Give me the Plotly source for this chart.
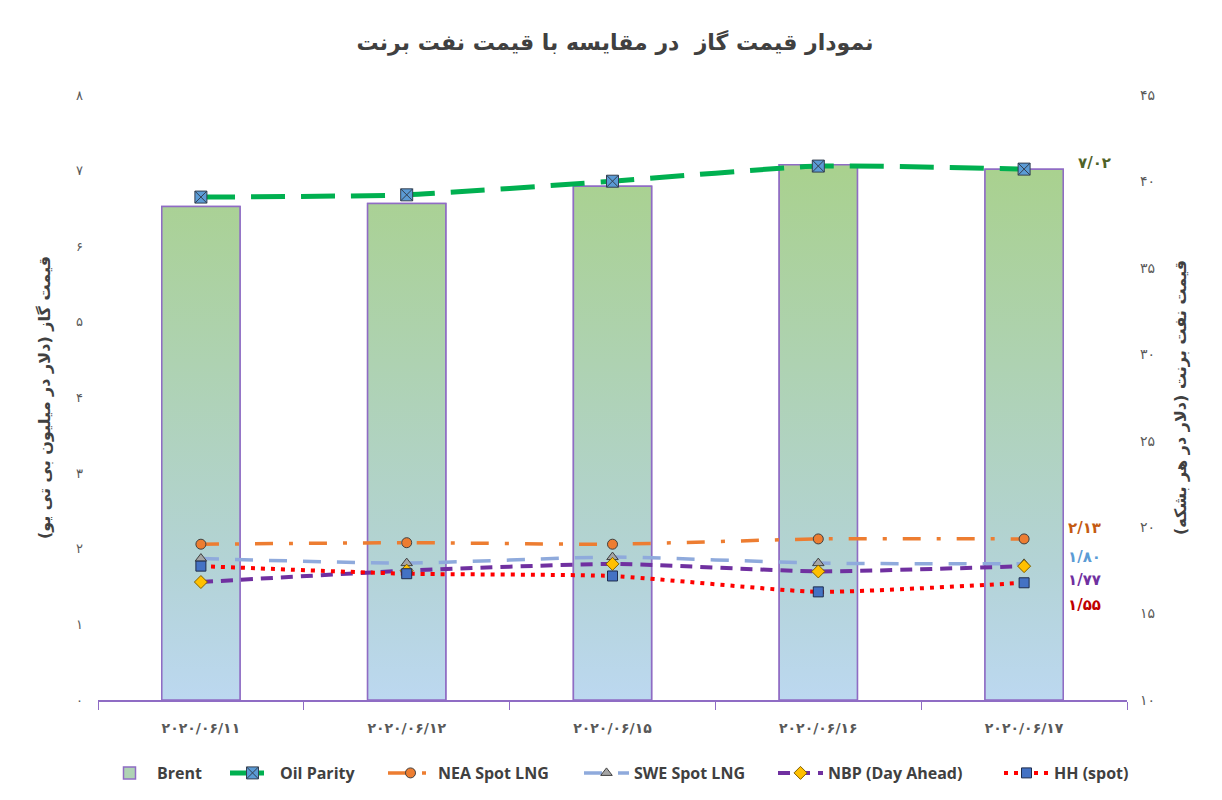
import plotly.graph_objects as go

# ---------------- data ----------------
dates = ["2020/06/11", "2020/06/12", "2020/06/15", "2020/06/16", "2020/06/17"]
brent = [38.55, 38.73, 39.72, 40.96, 40.71]          # right axis ($/bbl)
oil_parity = [6.65, 6.68, 6.86, 7.06, 7.02]          # left axis ($/MMBtu)
nea_lng = [2.06, 2.08, 2.06, 2.13, 2.13]
swe_lng = [1.87, 1.81, 1.89, 1.81, 1.80]
nbp = [1.56, 1.71, 1.80, 1.70, 1.77]
hh = [1.77, 1.67, 1.64, 1.43, 1.55]
left_ticks = [0, 1, 2, 3, 4, 5, 6, 7, 8]
right_ticks = [10, 15, 20, 25, 30, 35, 40, 45]

title_text = "نمودار قیمت گاز  در مقایسه با قیمت نفت برنت"
left_title = "قیمت گاز (دلار در میلیون بی تی یو)"
right_title = "قیمت نفت برنت (دلار در هر بشکه)"

FA = str.maketrans("0123456789.", "۰۱۲۳۴۵۶۷۸۹/")


def fa(s):
    return str(s).translate(FA)


PURPLE = "#8f6cc4"
TXT = "#595959"
FA_FONT = "DejaVu Sans"
LEG_FONT = "Open Sans"

x = list(range(len(dates)))
bw = 0.38
hw = bw / 2

fig = go.Figure()

# Brent bars (right axis = primary y, drawn underneath)
fig.add_trace(go.Bar(
    x=x, y=[v - right_ticks[0] for v in brent], base=right_ticks[0], width=bw,
    yaxis="y", name="Brent", legend="legend",
    marker=dict(color="#afd3b4", line=dict(color=PURPLE, width=1.5)),
    hoverinfo="skip",
))
# gradient overlay of the same bars
bx, by = [], []
for i, v in zip(x, brent):
    bx += [i - hw, i - hw, i + hw, i + hw, i - hw, None]
    by += [right_ticks[0], v, v, right_ticks[0], right_ticks[0], None]
fig.add_trace(go.Scatter(
    x=bx, y=by, yaxis="y", name="Brent", mode="lines", showlegend=False,
    fill="toself",
    fillgradient=dict(type="vertical",
                      colorscale=[[0, "#bcd8f0"], [0.25, "#b3d3d6"], [1, "#a9d18e"]]),
    line=dict(color=PURPLE, width=1.5),
    hoverinfo="skip",
))

dark = "#404040"
fig.add_trace(go.Scatter(
    x=x, y=oil_parity, yaxis="y2", name="Oil Parity", mode="lines+markers", legend="legend2",
    line=dict(color="#00b050", width=5, dash="34px,16px", shape="spline", smoothing=0.5),
    marker=dict(symbol="square-x", size=12, color="#5b9bd5", line=dict(color="#333f50", width=1)),
))
fig.add_trace(go.Scatter(
    x=x, y=nea_lng, yaxis="y2", name="NEA Spot LNG", mode="lines+markers", legend="legend3",
    line=dict(color="#ed7d31", width=3.5, dash="18px,16px,4px,16px", shape="spline", smoothing=0.5),
    marker=dict(symbol="circle", size=10, color="#ed7d31", line=dict(color=dark, width=1)),
))
fig.add_trace(go.Scatter(
    x=x, y=swe_lng, yaxis="y2", name="SWE Spot LNG", mode="lines+markers", legend="legend4",
    line=dict(color="#8faadc", width=3.5, dash="18px,16px", shape="spline", smoothing=0.5),
    marker=dict(symbol="triangle-up", size=10, color="#a5a5a5", line=dict(color=dark, width=1)),
))
fig.add_trace(go.Scatter(
    x=x, y=nbp, yaxis="y2", name="NBP (Day Ahead)", mode="lines+markers", legend="legend5",
    line=dict(color="#7030a0", width=4, dash="12px,8px", shape="spline", smoothing=0.5),
    marker=dict(symbol="diamond", size=10, color="#ffc000", line=dict(color="#7f6000", width=1)),
))
fig.add_trace(go.Scatter(
    x=x, y=hh, yaxis="y2", name="HH (spot)", mode="lines+markers", legend="legend6",
    line=dict(color="#ff0000", width=4, dash="4px,6px", shape="spline", smoothing=0.5),
    marker=dict(symbol="square", size=10, color="#4472c4", line=dict(color="#1f2d4d", width=1)),
))

# end labels
labels = [
    (oil_parity, "#4f6228", 6, 52),
    (nea_lng, "#c55a11", 11, 42),
    (swe_lng, "#5b9bd5", 7, 42),
    (nbp, "#7030a0", -14, 42),
    (hh, "#c00000", -22, 42),
]
for series, col, ys, xs in labels:
    fig.add_annotation(
        x=x[-1], y=series[-1], xref="x", yref="y2",
        text="<b>" + fa(f"{series[-1]:.2f}") + "</b>",
        showarrow=False, xanchor="left", xshift=xs, yshift=ys,
        font=dict(family=FA_FONT, size=15, color=col),
    )

W, H = 1214, 792


def leg(px):
    return dict(orientation="h", xref="container", yref="container",
                x=px / W, xanchor="left", y=1 - 765 / H, yanchor="middle",
                bgcolor="rgba(0,0,0,0)", borderwidth=0, itemwidth=45,
                font=dict(family=LEG_FONT, size=16, color="#404040", weight="bold"))


fig.update_layout(
    width=W, height=H,
    paper_bgcolor="white", plot_bgcolor="white",
    margin=dict(l=90, r=95, t=87, b=100),
    title=dict(text="<b>" + title_text + "</b>", x=0.5, xanchor="center", y=1 - 34 / H, yanchor="middle",
               font=dict(family=FA_FONT, size=22, color="#404040")),
    showlegend=True,
    barmode="overlay",
    legend=leg(94),
    legend2=leg(217),
    legend3=leg(375),
    legend4=leg(571),
    legend5=leg(765),
    legend6=leg(991),
    xaxis=dict(
        range=[-0.5, 4.5], tickmode="array", tickvals=x, ticktext=["<b>" + fa(d) + "</b>" for d in dates],
        ticks="", showgrid=False, zeroline=False,
        showline=True, linecolor=PURPLE, linewidth=2,
        tickfont=dict(family=FA_FONT, size=14, color=TXT), ticklabelstandoff=14,
        minor=dict(tickmode="linear", tick0=-0.5, dtick=1, ticks="outside", ticklen=8,
                   tickcolor=PURPLE, tickwidth=1, showgrid=False),
    ),
    yaxis=dict(
        range=[10, 45], tickmode="array", tickvals=right_ticks, ticktext=[fa(t) for t in right_ticks],
        side="right",
        showgrid=False, zeroline=False, showline=False, ticks="",
        tickfont=dict(family=FA_FONT, size=14, color=TXT), ticklabelstandoff=12,
        title=dict(text="<b>" + right_title + "</b>", standoff=20,
                   font=dict(family=FA_FONT, size=16, color="#404040")),
    ),
    yaxis2=dict(
        range=[0, 8], tickmode="array", tickvals=left_ticks, ticktext=[fa(t) for t in left_ticks],
        overlaying="y", side="left",
        showgrid=False, zeroline=False, showline=False, ticks="",
        tickfont=dict(family=FA_FONT, size=13, color=TXT), ticklabelstandoff=14,
        title=dict(text="<b>" + left_title + "</b>", standoff=21,
                   font=dict(family=FA_FONT, size=16, color="#404040")),
    ),
)

fig.write_html("out.html")
